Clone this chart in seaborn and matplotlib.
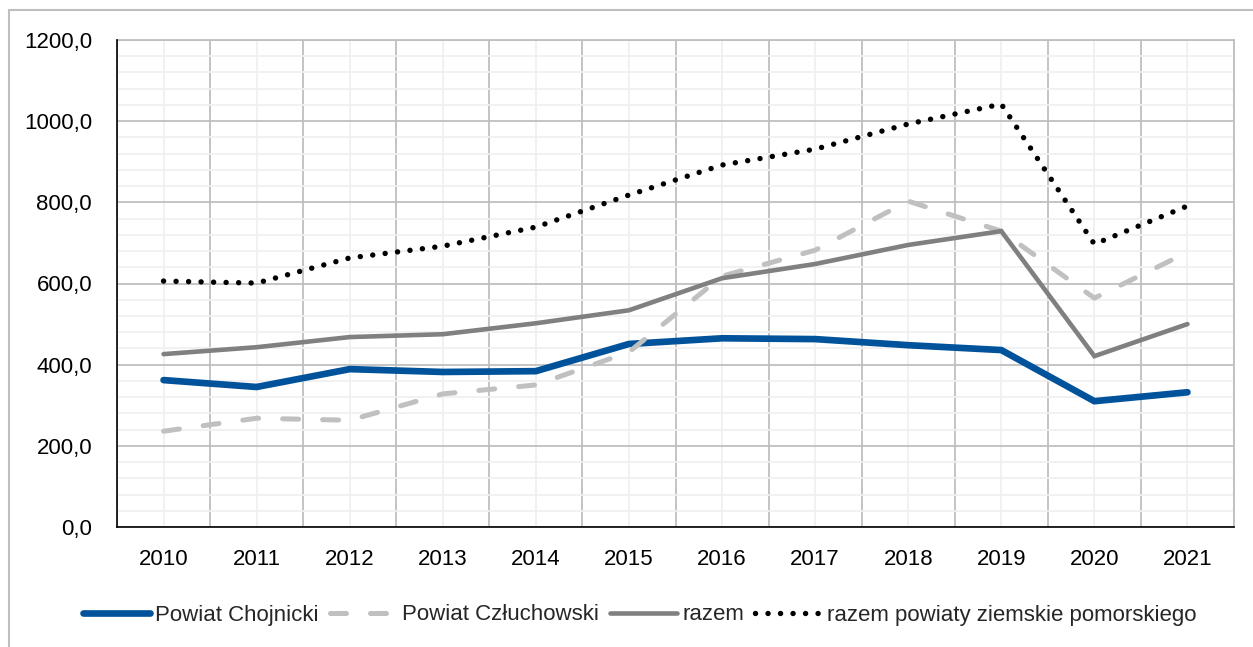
import matplotlib
matplotlib.use("Agg")
import matplotlib.pyplot as plt
from matplotlib.lines import Line2D
from matplotlib.ticker import MultipleLocator, FuncFormatter
import seaborn as sns
import pandas as pd

years = [2010, 2011, 2012, 2013, 2014, 2015, 2016, 2017, 2018, 2019, 2020, 2021]
chojnicki = [362, 345, 389, 382, 384, 451, 465, 463, 448, 436, 310, 332]
czluchowski = [236, 268, 263, 328, 350, 431, 618, 682, 803, 729, 564, 677]
razem = [426, 443, 468, 475, 502, 534, 613, 648, 695, 729, 421, 500]
razem_pomorskie = [606, 601, 663, 692, 739, 818, 892, 931, 993, 1042, 697, 791]

series_names = ["Powiat Chojnicki", "Powiat Człuchowski", "razem",
                "razem powiaty ziemskie pomorskiego"]
series_values = [chojnicki, czluchowski, razem, razem_pomorskie]

sns.set_theme(style="white")
plt.rcParams["font.family"] = ["Liberation Sans", "DejaVu Sans"]
FS = 16

W, H = 1253, 647
fig = plt.figure(figsize=(W / 100, H / 100), dpi=100)
ax = fig.add_axes([117 / W, (H - 527) / H, (1234 - 117) / W, (527 - 40) / H])

styles = [
    dict(color="#00529b", lw=4.8, dashes=None),
    dict(color="#c0c0c0", lw=3.6, dashes=(3.2, 4.8)),
    dict(color="#808080", lw=3.3, dashes=None),
    dict(color="#000000", lw=3.9, dashes=(0.01, 2.3)),
]

handles = []
for name, vals, st in zip(series_names, series_values, styles):
    df = pd.DataFrame({"rok": years, "wartosc": vals})
    sns.lineplot(data=df, x="rok", y="wartosc", ax=ax, color=st["color"],
                 lw=st["lw"], zorder=3)
    line = ax.lines[-1]
    line.set_solid_capstyle("round")
    line.set_dash_capstyle("round")
    line.set_solid_joinstyle("miter")
    if st["dashes"] is not None:
        line.set_dashes(st["dashes"])
    h = Line2D([], [], color=st["color"], lw=st["lw"],
               solid_capstyle="round", dash_capstyle="round")
    if st["dashes"] is not None:
        h.set_dashes(st["dashes"])
    handles.append(h)

ax.set_xlim(2009.5, 2021.5)
ax.set_ylim(0, 1200)
ax.set_xlabel("")
ax.set_ylabel("")

ax.xaxis.set_major_locator(MultipleLocator(1))
ax.xaxis.set_minor_locator(MultipleLocator(0.5))
ax.yaxis.set_major_locator(MultipleLocator(200))
ax.yaxis.set_minor_locator(MultipleLocator(40))
ax.yaxis.set_major_formatter(FuncFormatter(lambda v, p: f"{v:.1f}".replace(".", ",")))
ax.xaxis.set_major_formatter(FuncFormatter(lambda v, p: f"{int(round(v))}"))

ax.set_axisbelow(True)
ax.grid(False)
ax.grid(axis="x", which="major", color="#f0f0f0", lw=1.3)
ax.grid(axis="x", which="minor", color="#bfbfbf", lw=1.3)
ax.grid(axis="y", which="minor", color="#f0f0f0", lw=1.3)
ax.grid(axis="y", which="major", color="#bfbfbf", lw=1.3)

ax.tick_params(axis="both", which="both", length=0, labelsize=FS, colors="black")
ax.tick_params(axis="y", pad=18)
ax.tick_params(axis="x", pad=16)

for side in ("top", "right"):
    ax.spines[side].set_color("#bfbfbf")
    ax.spines[side].set_linewidth(1.3)
for side in ("left", "bottom"):
    ax.spines[side].set_color("black")
    ax.spines[side].set_linewidth(1.2)
    ax.spines[side].set_zorder(4)

fig.legend(handles, series_names, loc="center", ncol=4, frameon=False,
           bbox_to_anchor=(640 / W, 32 / H), fontsize=FS,
           handlelength=3.0, handletextpad=0.25, columnspacing=0.5)

# outer frame of the chart
fig.add_artist(Line2D([9 / W, 1], [(H - 10) / H, (H - 10) / H],
                      transform=fig.transFigure, color="#bfbfbf", lw=1.5))
fig.add_artist(Line2D([9 / W, 9 / W], [0, (H - 10) / H],
                      transform=fig.transFigure, color="#bfbfbf", lw=1.5))

fig.savefig("out.png", dpi=100, facecolor="white")
